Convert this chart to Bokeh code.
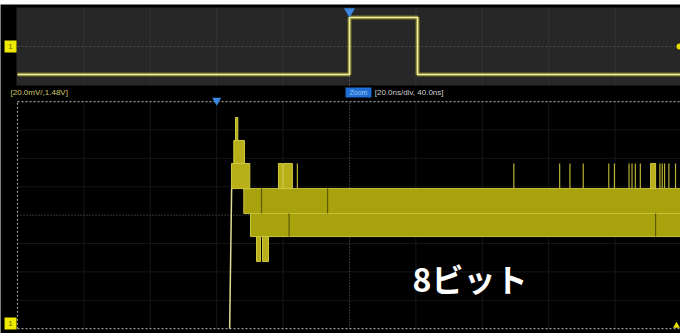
from bokeh.plotting import figure
from bokeh.models import Range1d
from bokeh.core.properties import value
from bokeh.embed import file_html
from bokeh.resources import INLINE

# ---------------- data ----------------
# overview (upper strip): time in ns (200 ns/div), level in divisions
ov_time_ns = [-1000, 0, 0, 205, 205, 1000]
ov_level_div = [-2.87, -2.87, 2.97, 2.97, -2.87, -2.87]
ov_grid_ns = [-800, -600, -400, -200, 200, 400, 600, 800]

# zoom window: time in ns (20 ns/div, centre 40 ns), voltage in mV (20 mV/div)
grid_ns = [-40, -20, 0, 20, 60, 80, 100, 120]
grid_mv = [-60, -40, -20, 20, 40, 60]

edge_ns = [3.9, 4.5]
edge_mv = [-80, 18.7]

block_left = [5.66, 5.15, 4.46, 11.99, 13.8, 18.6, 20.1, 130.7]
block_right = [6.36, 8.37, 9.97, 13.19, 15.6, 19.8, 22.8, 132.2]
block_bottom = [52.6, 36.4, 18.7, -32.7, -32.7, 18.7, 18.7, 18.7]
block_top = [68.8, 52.6, 36.4, -15.1, -15.1, 36.4, 36.4, 36.4]

band_left = [8.16, 10.18]
band_right = [140.0, 140.0]
band_bottom = [1.1, -15.1]
band_top = [18.7, 1.1]

spike_ns = [24.3, 89.5, 103.3, 106.4, 110.4, 118.1, 119.8, 124.2, 125.1,
            126.1, 127.6, 133.5, 134.2, 134.9, 136.2, 138.2]
spike_bottom = 18.7
spike_top = 36.4

dark_ns = [13.5, 33.4, 21.8, 132.2]
dark_bottom = [1.1, 1.1, -15.1, -15.1]
dark_top = [18.7, 18.7, 1.1, 1.1]

# ---------------- figure ----------------
p = figure(width=680, height=333, output_backend="svg", toolbar_location=None,
           x_range=Range1d(-65.12, 139.70), y_range=Range1d(-83.4, 148.4),
           x_axis_type=None, y_axis_type=None,
           min_border_left=0, min_border_right=0, min_border_bottom=0, min_border_top=4,
           border_fill_color="white", background_fill_color="black",
           outline_line_color=None)
p.grid.visible = False
p.extra_x_ranges = {"ov": Range1d(-1051.2, 997.0)}
p.extra_y_ranges = {"ov": Range1d(-29.44, 4.308)}

OV = dict(x_range_name="ov", y_range_name="ov")

# overview panel
p.quad(left=-1003, right=1000, bottom=-4, top=4, fill_color="#272727", line_color=None, **OV)
p.segment(x0=ov_grid_ns, x1=ov_grid_ns, y0=[-4] * len(ov_grid_ns), y1=[4] * len(ov_grid_ns),
          line_color="#343434", line_width=1, **OV)
p.segment(x0=[-1000], x1=[1000], y0=[0], y1=[0], line_color="#4c4c4c", line_dash="2 2", **OV)
p.segment(x0=[0], x1=[0], y0=[-4], y1=[4], line_color="#5a5a5a", line_dash="2 2", **OV)
p.line(ov_time_ns, ov_level_div, line_color="#c8c020", line_width=4, line_alpha=0.5, **OV)
p.line(ov_time_ns, ov_level_div, line_color="#f2f0a8", line_width=1.6, **OV)
p.scatter(x=[0], y=[3.6], marker="inverted_triangle", size=11, fill_color="#3a86e0",
          line_color=None, **OV)
p.scatter(x=[-1021], y=[0], marker="square", size=12, fill_color="#eeea00",
          line_color=None, **OV)
p.text(x=[-1021], y=[0], text=["1"], text_font_size="8px", text_color="#6a6a00",
       text_align="center", text_baseline="middle", **OV)
p.scatter(x=[994], y=[0], marker="circle", size=6, fill_color="#e8e000", line_color=None, **OV)

# label row
p.text(x=[-62.1], y=[86.6], text=["[20.0mV/,1.48V]"], text_font_size="8px",
       text_font=value("Liberation Sans"), text_color="#d2c96a", text_baseline="middle")
p.quad(left=38.8, right=46.6, bottom=82.9, top=89.9, fill_color="#1f6fd6", line_color=None)
p.text(x=[42.7], y=[86.4], text=["Zoom"], text_font_size="7px",
       text_font=value("Liberation Sans"), text_color="#9cc4f0", text_align="center",
       text_baseline="middle")
p.text(x=[47.6], y=[86.6], text=["[20.0ns/div, 40.0ns]"], text_font_size="8px",
       text_font=value("Liberation Sans"), text_color="#cfcfcf", text_baseline="middle")

# main panel grid
p.segment(x0=grid_ns, x1=grid_ns, y0=[-80] * len(grid_ns), y1=[80] * len(grid_ns),
          line_color="#2c2c2c", line_width=1, line_dash="1 1")
p.segment(x0=[-60] * len(grid_mv), x1=[140] * len(grid_mv), y0=grid_mv, y1=grid_mv,
          line_color="#2c2c2c", line_width=1, line_dash="1 1")
p.segment(x0=[40, -60], x1=[40, 140], y0=[-80, 0], y1=[80, 0],
          line_color="#6a6a6a", line_width=1, line_dash="1 2")
p.segment(x0=[-60, -60, -60], x1=[-60, 140, 140], y0=[-80, 80, -80], y1=[80, 80, -80],
          line_color="#9a9a9a", line_width=1.2, line_dash="2 2")

# waveform (8-bit quantised step)
p.quad(left=band_left, right=band_right, bottom=band_bottom, top=band_top,
       fill_color="#a8a20c", line_color="#c9c33c", line_width=1)
p.quad(left=block_left, right=block_right, bottom=block_bottom, top=block_top,
       fill_color="#b8b018", line_color="#cfc840", line_width=1)
p.segment(x0=spike_ns, x1=spike_ns, y0=[spike_bottom] * len(spike_ns),
          y1=[spike_top] * len(spike_ns), line_color="#b8b030", line_width=1.2)
p.segment(x0=dark_ns, x1=dark_ns, y0=dark_bottom, y1=dark_top,
          line_color="#5e5a04", line_width=1.2)
p.line(edge_ns, edge_mv, line_color="#dede98", line_width=1.5)

# markers in main panel
p.scatter(x=[0], y=[80.8], marker="inverted_triangle", size=9, fill_color="#3a86e0",
          line_color=None)
p.scatter(x=[-62.1], y=[-76.3], marker="square", size=12, fill_color="#eeea00", line_color=None)
p.text(x=[-62.1], y=[-76.3], text=["1"], text_font_size="8px", text_color="#6a6a00",
       text_align="center", text_baseline="middle")
p.scatter(x=[138.5], y=[-78.0], marker="triangle", size=7, fill_color="#e8e000", line_color=None)

# caption
p.text(x=[59.0], y=[-44.0], text=["8ビット"], text_font_size="32px",
       text_font=value("Noto Sans CJK JP"), text_font_style="bold", text_color="white",
       text_align="left", text_baseline="middle")

open("out.html", "w").write(file_html(p, INLINE))
